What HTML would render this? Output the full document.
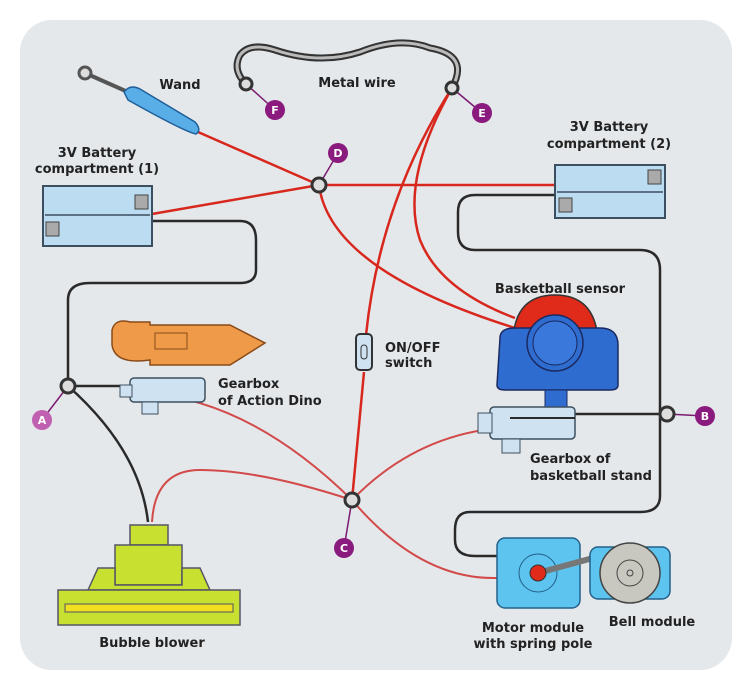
<!DOCTYPE html>
<html><head><meta charset="utf-8"><style>
html,body{margin:0;padding:0;background:#fff;width:750px;height:695px;overflow:hidden}
text{font-family:"DejaVu Sans","Liberation Sans",sans-serif;font-weight:bold;fill:#222}
</style></head><body>
<svg width="750" height="695" viewBox="0 0 750 695" xmlns="http://www.w3.org/2000/svg">
<rect x="20" y="20" width="712" height="650" rx="32" fill="#e5e8eb"/>
<!-- black wires -->
<g fill="none" stroke="#2a2a2a" stroke-width="2.5">
<path d="M152,221 H240 Q256,221 256,240 V270 Q256,283 240,283 H90 Q68,283 68,300 V386"/>
<path d="M555,195 H475 Q458,195 458,212 V232 Q458,250 475,250 H640 Q660,250 660,270 V496 Q660,512 640,512 H470 Q455,512 455,530 V540 Q455,556 475,556 H497"/>
<path d="M68,386 H150"/>
<path d="M68,386 Q140,450 148,522"/>
<path d="M667,414 H510"/>
</g>
<!-- metal wire -->
<path d="M246,84 Q232,70 240,55 Q250,42 275,50 Q320,65 360,52 Q400,36 430,48 Q470,55 452,88" fill="none" stroke="#333" stroke-width="7"/>
<path d="M246,84 Q232,70 240,55 Q250,42 275,50 Q320,65 360,52 Q400,36 430,48 Q470,55 452,88" fill="none" stroke="#bbb" stroke-width="3"/>
<!-- red wires -->
<g fill="none" stroke="#d8281e" stroke-width="2.5">
<path d="M198,132 L319,185"/>
<path d="M152,214 L319,185 H555"/>
<path d="M319,185 Q330,270 515,328"/>
<path d="M452,88 Q380,200 366,335"/>
<path d="M452,88 Q400,180 420,240 Q440,290 515,318"/>
<path d="M364,372 L352,500"/>
</g>
<g fill="none" stroke="#d24a4a" stroke-width="2">
<path d="M152,522 Q155,470 200,470 Q260,470 352,500"/>
<path d="M145,393 Q250,400 352,500"/>
<path d="M352,500 Q420,430 515,427"/>
<path d="M352,500 Q420,580 497,578"/>
</g>
<!-- wand -->
<line x1="85" y1="73" x2="128" y2="92" stroke="#555" stroke-width="4"/>
<circle cx="85" cy="73" r="6" fill="#ddd" stroke="#555" stroke-width="3"/>
<path d="M124,92 Q130,84 140,89 L195,122 Q202,130 196,134 Q185,132 128,100 Z" fill="#5aaee8" stroke="#1f5f9a" stroke-width="1.5"/>
<!-- batteries -->
<rect x="43" y="186" width="109" height="60" fill="#bcdcf2" stroke="#3c4f60" stroke-width="2"/>
<line x1="45" y1="215" x2="150" y2="215" stroke="#3c4f60" stroke-width="1.5"/>
<rect x="135" y="195" width="13" height="14" fill="#aaa" stroke="#444"/>
<rect x="46" y="222" width="13" height="14" fill="#aaa" stroke="#444"/>
<rect x="555" y="165" width="110" height="53" fill="#bcdcf2" stroke="#3c4f60" stroke-width="2"/>
<line x1="557" y1="192" x2="663" y2="192" stroke="#3c4f60" stroke-width="1.5"/>
<rect x="648" y="170" width="13" height="14" fill="#aaa" stroke="#444"/>
<rect x="559" y="198" width="13" height="14" fill="#aaa" stroke="#444"/>
<!-- dino -->
<path d="M112,330 Q115,318 130,322 L150,322 V325 H230 L265,343 L230,365 H150 V360 Q115,365 112,345 Z" fill="#ee9a48" stroke="#8a4a18" stroke-width="1.5"/>
<rect x="155" y="333" width="32" height="16" fill="none" stroke="#8a4a18"/>
<rect x="130" y="378" width="75" height="24" rx="4" fill="#cfe2f2" stroke="#3c4f60" stroke-width="1.5"/>
<rect x="120" y="385" width="12" height="12" fill="#cfe2f2" stroke="#3c4f60"/>
<rect x="142" y="402" width="16" height="12" fill="#cfe2f2" stroke="#3c4f60"/>
<!-- bubble blower -->
<rect x="130" y="525" width="38" height="20" fill="#c8e030" stroke="#556" stroke-width="1.5"/>
<rect x="115" y="545" width="67" height="40" fill="#c8e030" stroke="#556" stroke-width="1.5"/>
<path d="M88,590 L98,568 H115 V585 H182 V568 H200 L210,590 Z" fill="#c8e030" stroke="#556" stroke-width="1.5"/>
<rect x="58" y="590" width="182" height="35" fill="#c8e030" stroke="#556" stroke-width="1.5"/>
<rect x="65" y="604" width="168" height="8" fill="#f0e020" stroke="#556"/>
<!-- switch -->
<rect x="356" y="334" width="16" height="36" rx="4" fill="#cfe2f2" stroke="#333" stroke-width="2"/>
<rect x="361" y="345" width="6" height="14" rx="3" fill="none" stroke="#333"/>
<!-- basketball sensor -->
<path d="M513,340 Q515,295 555,295 Q595,295 598,340 Z" fill="#e02a1a" stroke="#333" stroke-width="1.5"/>
<path d="M500,338 Q500,328 515,328 H600 Q618,328 618,345 V385 Q618,390 610,390 H505 Q497,390 497,385 Z" fill="#2f6cd0" stroke="#1a2a60" stroke-width="1.5"/>
<circle cx="555" cy="343" r="28" fill="#2f6cd0" stroke="#1a2a60" stroke-width="1.5"/>
<circle cx="555" cy="343" r="22" fill="#3a78dc" stroke="#1a2a60"/>
<rect x="545" y="390" width="22" height="18" fill="#2f6cd0" stroke="#1a2a60"/>
<rect x="490" y="407" width="85" height="32" rx="4" fill="#cfe2f2" stroke="#3c4f60" stroke-width="1.5"/>
<rect x="478" y="413" width="14" height="20" fill="#cfe2f2" stroke="#3c4f60"/>
<rect x="502" y="439" width="18" height="14" fill="#cfe2f2" stroke="#3c4f60"/>
<line x1="510" y1="418" x2="575" y2="418" stroke="#2a2a2a" stroke-width="2"/>
<!-- motor & bell -->
<rect x="497" y="538" width="83" height="70" rx="8" fill="#5cc4ee" stroke="#23608a" stroke-width="1.5"/>
<circle cx="538" cy="573" r="19" fill="none" stroke="#23608a"/>
<line x1="538" y1="573" x2="593" y2="558" stroke="#777" stroke-width="6"/>
<circle cx="538" cy="573" r="8" fill="#e02a1a" stroke="#333"/>
<rect x="590" y="547" width="80" height="52" rx="8" fill="#5cc4ee" stroke="#23608a" stroke-width="1.5"/>
<circle cx="630" cy="573" r="30" fill="#c8c8c0" stroke="#444" stroke-width="1.5"/>
<circle cx="630" cy="573" r="13" fill="none" stroke="#444"/>
<circle cx="630" cy="573" r="3" fill="none" stroke="#444"/>
<!-- nodes -->
<g stroke="#7a1a70" stroke-width="1.5">
<line x1="246" y1="84" x2="275" y2="110"/><line x1="452" y1="88" x2="482" y2="113"/>
<line x1="319" y1="185" x2="338" y2="153"/><line x1="68" y1="386" x2="42" y2="420"/>
<line x1="667" y1="414" x2="705" y2="416"/><line x1="352" y1="500" x2="344" y2="548"/>
</g>
<g fill="#ddd" stroke="#333" stroke-width="3">
<circle cx="246" cy="84" r="6"/><circle cx="452" cy="88" r="6"/><circle cx="319" cy="185" r="7"/>
<circle cx="68" cy="386" r="7"/><circle cx="667" cy="414" r="7"/><circle cx="352" cy="500" r="7"/>
</g>
<g fill="#8a1a7e">
<circle cx="275" cy="110" r="10"/><circle cx="482" cy="113" r="10"/><circle cx="338" cy="153" r="10"/>
<circle cx="42" cy="420" r="10" fill="#c060b0"/><circle cx="705" cy="416" r="10"/><circle cx="344" cy="548" r="10"/>
</g>
<g font-size="11" text-anchor="middle" style="fill:#fff">
<text x="275" y="114" style="fill:#fff">F</text><text x="482" y="117" style="fill:#fff">E</text>
<text x="338" y="157" style="fill:#fff">D</text><text x="42" y="424" style="fill:#fff">A</text>
<text x="705" y="420" style="fill:#fff">B</text><text x="344" y="552" style="fill:#fff">C</text>
</g>
<!-- labels -->
<g font-size="13" text-anchor="middle">
<text x="180" y="89">Wand</text>
<text x="357" y="87">Metal wire</text>
<text x="609" y="131">3V Battery</text><text x="609" y="148">compartment (2)</text>
<text x="97" y="157">3V Battery</text><text x="97" y="173">compartment (1)</text>
<text x="560" y="293">Basketball sensor</text>
<text x="152" y="647">Bubble blower</text>
<text x="533" y="632">Motor module</text><text x="533" y="648">with spring pole</text>
<text x="652" y="626">Bell module</text>
</g>
<g font-size="13">
<text x="385" y="352">ON/OFF</text><text x="385" y="367">switch</text>
<text x="218" y="388">Gearbox</text><text x="218" y="405">of Action Dino</text>
<text x="530" y="463">Gearbox of</text><text x="530" y="480">basketball stand</text>
</g>
</svg>
</body></html>
